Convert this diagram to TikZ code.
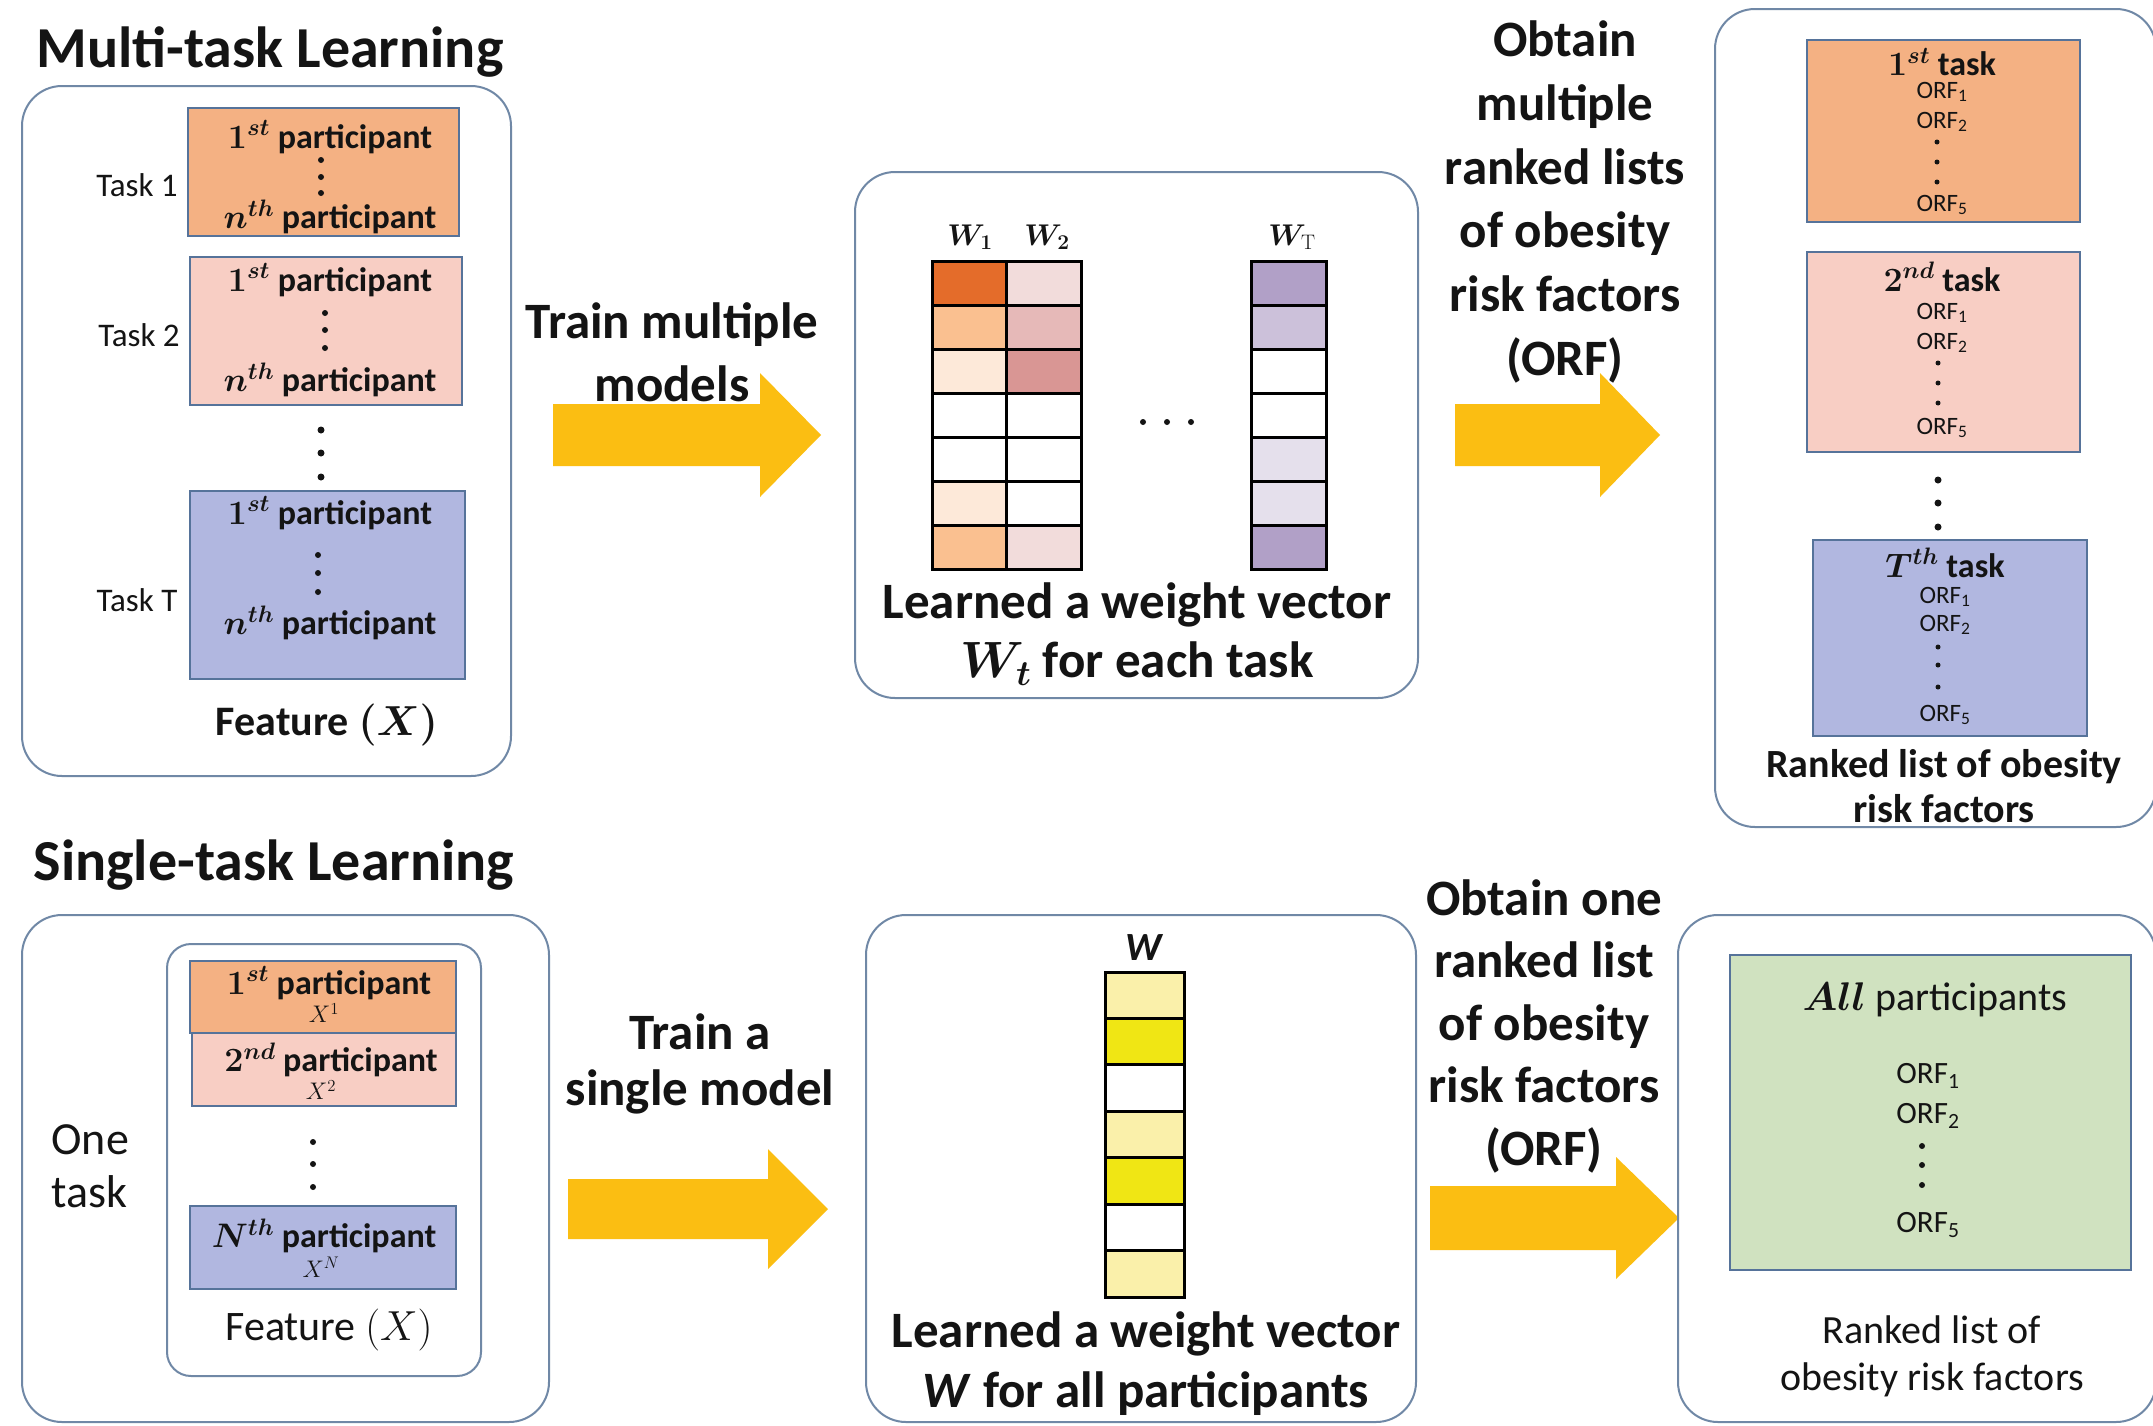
\RequirePackage{fix-cm}
\documentclass[tikz,border=0pt]{standalone}
\usepackage[no-math]{fontspec}
\setmainfont{Carlito}
\usepackage{amsmath}
\usepackage{bm}
\usetikzlibrary{fit}

\definecolor{orangeA}{HTML}{F4B183}
\definecolor{pinkA}{HTML}{F8CEC4}
\definecolor{blueA}{HTML}{B1B7E0}
\definecolor{greenA}{HTML}{D0E2C0}
\definecolor{arrowY}{HTML}{FBBE12}
\definecolor{panelLine}{HTML}{7088A6}
\definecolor{boxLine}{HTML}{56739A}
\definecolor{txt}{HTML}{141414}
% heat-map shades
\definecolor{wOa}{HTML}{E46C2A}
\definecolor{wOb}{HTML}{FAC090}
\definecolor{wOc}{HTML}{FDE9D9}
\definecolor{wPa}{HTML}{F2DCDB}
\definecolor{wPb}{HTML}{E6B9B8}
\definecolor{wPc}{HTML}{D99694}
\definecolor{wVa}{HTML}{B1A0C7}
\definecolor{wVb}{HTML}{CCC1DA}
\definecolor{wVc}{HTML}{E5E0EC}
\definecolor{wYa}{HTML}{FAF0AA}
\definecolor{wYb}{HTML}{F0E614}

\newcommand\fsz[2]{\fontsize{#1}{#2}\selectfont}
% three stacked dots: x, y1, y2, y3, radius
\newcommand\tridots[5]{\foreach \yy in {#2,#3,#4} \fill[txt] (#1,\yy) circle[radius=#5];}
% block arrow: start x, centre y, head start x, tip x, shaft half-height, head half-height
\newcommand\blockarrow[6]{\fill[arrowY] (#1,#2-#5) -- (#3,#2-#5) -- (#3,#2-#6) -- (#4,#2)
  -- (#3,#2+#6) -- (#3,#2+#5) -- (#1,#2+#5) -- cycle;}

\begin{document}
\begin{tikzpicture}[x=1pt,y=-1pt,
  panel/.style={draw=panelLine, line width=2pt, rounded corners=40pt, inner sep=0pt},
  innerpanel/.style={draw=panelLine, line width=2pt, rounded corners=24pt, inner sep=0pt},
  partbox/.style={draw=boxLine, line width=2pt, inner sep=0pt},
  cell/.style={draw=black, line width=3pt},
  title/.style={font=\fsz{58}{70}\bfseries, text=txt},
  biglabel/.style={font=\fsz{51}{63}\bfseries, align=center, text=txt},
  tasklabel/.style={font=\fsz{33}{40}, text=txt},
  partlabel/.style={font=\fsz{34}{40}\bfseries, text=txt, inner sep=1pt},
  orf/.style={font=\fsz{25}{30}, text=txt, inner sep=1pt},
  orfbig/.style={font=\fsz{31}{36}, text=txt, inner sep=1pt},
  wlabel/.style={font=\fsz{30}{36}, text=txt},
  feat/.style={font=\fsz{42}{50}, text=txt},
  midlabel/.style={font=\fsz{40}{47}, align=center, text=txt},
  xsup/.style={font=\fsz{24}{28}, text=txt, inner sep=0pt}]

\useasboundingbox (0,0) rectangle (2153,1425);
\fill[white] (0,0) rectangle (2153,1425);
\clip (0,0) rectangle (2153,1425);

% ---------------- Multi-task learning ----------------
\node[title] (mtltitle) at (270,52) {Multi-task Learning};
\node[panel, fit={(22,86) (511,776)}] (mtlpanel) {};

\node[partbox, fill=orangeA, fit={(188,108) (459,236)}] (t1box) {};
\node[partlabel] (t1first) at (330,137) {{\boldmath$1^{st}$} participant};
\tridots{321}{160}{177}{193}{3pt}
\node[partlabel] (t1last) at (330,217) {{\boldmath$n^{th}$} participant};
\node[tasklabel] (t1lab) at (137,185) {Task 1};

\node[partbox, fill=pinkA, fit={(190,257) (462,405)}] (t2box) {};
\node[partlabel] (t2first) at (330,280) {{\boldmath$1^{st}$} participant};
\tridots{325}{313}{330}{348}{3pt}
\node[partlabel] (t2last) at (330,380) {{\boldmath$n^{th}$} participant};
\node[tasklabel] (t2lab) at (139,335) {Task 2};

\tridots{321}{430}{453}{477}{3.5pt}

\node[partbox, fill=blueA, fit={(190,491) (465,679)}] (tTbox) {};
\node[partlabel] (tTfirst) at (330,513) {{\boldmath$1^{st}$} participant};
\tridots{318}{555}{573}{592}{3pt}
\node[partlabel] (tTlast) at (330,623) {{\boldmath$n^{th}$} participant};
\node[tasklabel] (tTlab) at (137,600) {Task T};

\node[feat, font=\fsz{42}{50}\bfseries] (mtlfeat) at (327,725) {Feature {\boldmath$(X)$}};

% arrow: train multiple models
\blockarrow{553}{435}{760}{821}{31}{62}
\node[biglabel] (trainmulti) at (672,352) {Train multiple\\models};

% ---------------- weight vectors per task ----------------
\node[panel, fit={(855,172) (1418,698)}] (wpanel) {};
\foreach \c [count=\i from 0] in {wOa,wOb,wOc,white,white,wOc,wOb}
  \filldraw[cell, fill=\c] (932,261+\i*44.14) rectangle (1006,305.14+\i*44.14);
\foreach \c [count=\i from 0] in {wPa,wPb,wPc,white,white,white,wPa}
  \filldraw[cell, fill=\c] (1006,261+\i*44.14) rectangle (1081,305.14+\i*44.14);
\foreach \c [count=\i from 0] in {wVa,wVb,white,white,wVc,wVc,wVa}
  \filldraw[cell, fill=\c] (1251,261+\i*44.14) rectangle (1326,305.14+\i*44.14);
\node[wlabel] (w1lab) at (970,237) {$\bm{W}_{\mathbf{1}}$};
\node[wlabel] (w2lab) at (1047,237) {$\bm{W}_{\mathbf{2}}$};
\node[wlabel] (wTlab) at (1292,237) {$\bm{W}_{\mathrm{T}}$};
\foreach \xx in {1143,1167,1191} \fill[txt] (\xx,422) circle[radius=3pt];
\node[biglabel, font=\fsz{51}{59}\bfseries] (wtext) at (1137,634)
  {Learned a weight vector\\$\bm{W}_{\bm{t}}$ for each task};

% arrow: obtain multiple ranked lists
\blockarrow{1455}{435}{1600}{1660}{31}{62}
\node[biglabel, font=\fsz{51}{63.8}\bfseries] (obtainmulti) at (1565,202)
  {Obtain\\multiple\\ranked lists\\of obesity\\risk factors\\(ORF)};

% ---------------- ranked lists per task ----------------
\node[panel, fit={(1715,9) (2156,827)}] (rlpanel) {};

\node[partbox, fill=orangeA, fit={(1807,40) (2080,222)}] (r1box) {};
\node[partlabel] (r1head) at (1942,62) {{\boldmath$1^{st}$} task};
\node[orf] (r1a) at (1942,92) {ORF\textsubscript{1}};
\node[orf] (r1b) at (1942,122) {ORF\textsubscript{2}};
\tridots{1937}{142}{162}{182}{2.5pt}
\node[orf] (r1e) at (1942,205) {ORF\textsubscript{5}};

\node[partbox, fill=pinkA, fit={(1807,252) (2080,452)}] (r2box) {};
\node[partlabel] (r2head) at (1942,277) {{\boldmath$2^{nd}$} task};
\node[orf] (r2a) at (1942,313) {ORF\textsubscript{1}};
\node[orf] (r2b) at (1942,343) {ORF\textsubscript{2}};
\tridots{1938}{363}{383}{403}{2.5pt}
\node[orf] (r2e) at (1942,428) {ORF\textsubscript{5}};

\tridots{1938}{480}{503}{527}{3.5pt}

\node[partbox, fill=blueA, fit={(1813,540) (2087,736)}] (rTbox) {};
\node[partlabel] (rThead) at (1945,563) {{\boldmath$T^{th}$} task};
\node[orf] (rTa) at (1945,597) {ORF\textsubscript{1}};
\node[orf] (rTb) at (1945,625) {ORF\textsubscript{2}};
\tridots{1938}{647}{665}{687}{2.5pt}
\node[orf] (rTe) at (1945,715) {ORF\textsubscript{5}};

\node[midlabel, font=\fsz{40}{45}\bfseries] (rlcap) at (1944,786)
  {Ranked list of obesity\\risk factors};

% ---------------- Single-task learning ----------------
\node[title] (stltitle) at (274,865) {Single-task Learning};
\node[panel, fit={(22,915) (549,1422)}] (stlpanel) {};
\node[innerpanel, fit={(167,944) (481,1376)}] (stlinner) {};

\node[partbox, fill=orangeA, fit={(190,961) (456,1033)}] (p1box) {};
\node[partlabel] (p1lab) at (329,983) {{\boldmath$1^{st}$} participant};
\node[xsup] (p1x) at (324,1013) {$X^{1}$};

\node[partbox, fill=pinkA, fit={(192,1033) (456,1106)}] (p2box) {};
\node[partlabel] (p2lab) at (331,1060) {{\boldmath$2^{nd}$} participant};
\node[xsup] (p2x) at (321,1090) {$X^{2}$};

\tridots{313}{1142}{1164}{1187}{3pt}

\node[partbox, fill=blueA, fit={(190,1206) (456,1289)}] (pNbox) {};
\node[partlabel] (pNlab) at (324,1236) {{\boldmath$N^{th}$} participant};
\node[xsup] (pNx) at (321,1267) {$X^{N}$};

\node[feat] (stlfeat) at (329,1330) {Feature $(X)$};
\node[font=\fsz{46}{53}, align=left, anchor=west, text=txt] (onetask) at (48,1166) {One\\task};

% arrow: train a single model
\blockarrow{568}{1209}{768}{828}{30}{60}
\node[biglabel, font=\fsz{51}{56}\bfseries] (trainsingle) at (700,1064) {Train a\\single model};

% ---------------- single weight vector ----------------
\node[panel, fit={(866,915) (1416,1422)}] (swpanel) {};
\foreach \c [count=\i from 0] in {wYa,wYb,white,wYa,wYb,white,wYa}
  \filldraw[cell, fill=\c] (1105,972+\i*46.43) rectangle (1184,1018.43+\i*46.43);
\node[font=\fsz{40}{46}\bfseries\itshape, text=txt] (swlab) at (1144,948) {W};
\node[biglabel, font=\fsz{51}{60}\bfseries] (swtext) at (1146,1364)
  {Learned a weight vector\\\textit{W} for all participants};

% arrow: obtain one ranked list
\blockarrow{1430}{1218}{1616}{1679}{32}{61}
\node[biglabel, font=\fsz{51}{62.5}\bfseries] (obtainone) at (1544,1026)
  {Obtain one\\ranked list\\of obesity\\risk factors\\(ORF)};

% ---------------- single ranked list ----------------
\node[panel, fit={(1678,915) (2156,1422)}] (srpanel) {};
\node[partbox, fill=greenA, fit={(1730,955) (2131,1270)}] (allbox) {};
\node[midlabel] (allhead) at (1935,1000) {{\boldmath$All$} participants};
\node[orfbig] (alla) at (1928,1076) {ORF\textsubscript{1}};
\node[orfbig] (allb) at (1928,1116) {ORF\textsubscript{2}};
\tridots{1922}{1146}{1165}{1185}{3pt}
\node[orfbig] (alle) at (1928,1225) {ORF\textsubscript{5}};
\node[midlabel] (srcap) at (1932,1356) {Ranked list of\\obesity risk factors};

\end{tikzpicture}
\end{document}
